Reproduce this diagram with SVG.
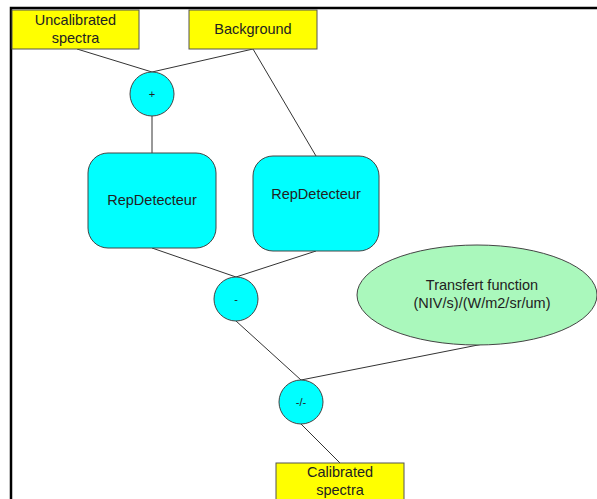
<svg xmlns="http://www.w3.org/2000/svg" width="597" height="499" viewBox="0 0 597 499">
<style>
.box{fill:#ffff00;stroke:#555;stroke-width:1}
.op{fill:#00ffff;stroke:#444;stroke-width:1}
.rep{fill:#00ffff;stroke:#444;stroke-width:1}
.ell{fill:#aaf8bc;stroke:#444;stroke-width:1}
.t{font-family:"Liberation Sans",Arial,sans-serif;font-size:14.5px;fill:#222;text-anchor:middle}
.s{font-family:"Liberation Sans",Arial,sans-serif;font-size:11px;fill:#222;text-anchor:middle}
#edges line{stroke:#333;stroke-width:1}
</style>
<rect width="597" height="499" fill="#fff"/>
<path d="M11,499 V8 H597" fill="none" stroke="#000" stroke-width="2.5"/>
<g id="edges">
<line x1="77" y1="49" x2="152" y2="72"/>
<line x1="253" y1="49" x2="152" y2="72"/>
<line x1="253" y1="49" x2="316" y2="156"/>
<line x1="152" y1="116" x2="152" y2="153"/>
<line x1="152" y1="248" x2="236" y2="277"/>
<line x1="316" y1="251" x2="236" y2="277"/>
<line x1="236" y1="321" x2="301" y2="380"/>
<line x1="483" y1="344" x2="301" y2="380"/>
<line x1="301" y1="424" x2="340" y2="463"/>
</g>
<g id="uncal"><rect class="box" x="12" y="10" width="127" height="39"/><text class="t" x="75.5" y="25">Uncalibrated</text><text class="t" x="75.5" y="43">spectra</text></g>
<g id="background"><rect class="box" x="189" y="10" width="128" height="39"/><text class="t" x="253" y="34">Background</text></g>
<g id="plus"><circle class="op" cx="152" cy="94" r="22"/><text class="s" x="152" y="98">+</text></g>
<g id="rep1"><rect class="rep" x="88" y="153" width="128" height="95" rx="20"/><text class="t" x="152" y="205">RepDetecteur</text></g>
<g id="rep2"><rect class="rep" x="253" y="156" width="126" height="95" rx="20"/><text class="t" x="316" y="199">RepDetecteur</text></g>
<g id="minus"><circle class="op" cx="236" cy="299" r="22"/><text class="s" x="236" y="303">-</text></g>
<g id="transfer"><ellipse class="ell" cx="477" cy="295" rx="120" ry="50"/><text class="t" x="482" y="290">Transfert function</text><text class="t" x="482" y="308">(NIV/s)/(W/m2/sr/um)</text></g>
<g id="div"><circle class="op" cx="301" cy="402" r="22"/><text class="s" x="301" y="406">-/-</text></g>
<g id="calib"><rect class="box" x="276" y="463" width="128" height="40"/><text class="t" x="340" y="477">Calibrated</text><text class="t" x="340" y="495">spectra</text></g>
</svg>
